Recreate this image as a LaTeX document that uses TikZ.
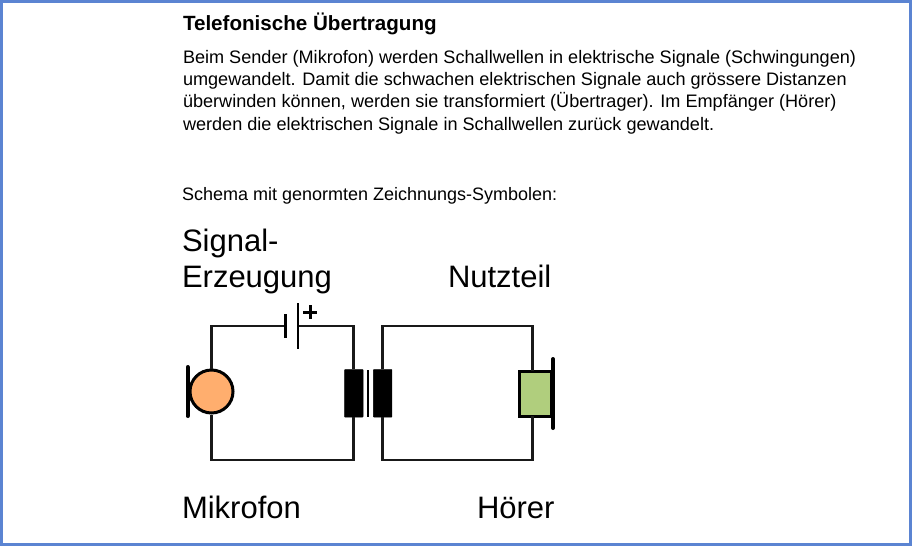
\documentclass[tikz,border=0pt]{standalone}
\usepackage{fontspec}
\setmainfont{Liberation Sans}
\usetikzlibrary{positioning}
\definecolor{framecol}{HTML}{5B84D2}
\definecolor{miccol}{HTML}{FFAE6E}
\definecolor{hoercol}{HTML}{B0CE7D}
\tikzset{
    wire/.style={line width=2.7pt,black!90},
    txt/.style={anchor=base west,inner sep=0pt,outer sep=0pt},
    big/.style={txt,font=\fontsize{31}{38}\selectfont},
    coil/.style={fill=black,draw=black,line width=.5pt,rounded corners=.5pt,minimum width=18.5pt,minimum height=47.5pt,inner sep=0pt}
}
\begin{document}
\begin{tikzpicture}[x=1pt,y=-1pt]
    \node[draw=framecol,line width=3pt,fill=white,minimum width=909pt,minimum height=543pt,inner sep=0pt] (frame) at (456,273) {};
    \node[txt,font=\bfseries\fontsize{20.6}{24}\selectfont] (title) at (183,30) {Telefonische Übertragung};
    \node[txt,align=left,font=\fontsize{18.1}{22.3}\selectfont,anchor=north west] (body) at (183,50)
        {Beim Sender (Mikrofon) werden Schallwellen in elektrische Signale (Schwingungen)\\
         umgewandelt. Damit die schwachen elektrischen Signale auch grössere Distanzen\\
         überwinden können, werden sie transformiert (Übertrager). Im Empfänger (Hörer)\\
         werden die elektrischen Signale in Schallwellen zurück gewandelt.};
    \node[txt,font=\fontsize{18}{20}\selectfont] (schema) at (182,200) {Schema mit genormten Zeichnungs-Symbolen:};
    \node[big] (signal) at (182,251.5) {Signal-};
    \node[big] (erzeug) at (182,287) {Erzeugung};
    \node[big] (nutz) at (448,287) {Nutzteil};
    \node[big] (mikro) at (182,518) {Mikrofon};
    \node[big] (hoer) at (477,518) {Hörer};
    % Sendekreis
    \node[coil] (coilL) at (353.8,393.3) {};
    \node[coil] (coilR) at (382.7,393.3) {};
    \node[circle,draw=black,line width=3pt,fill=miccol,minimum size=43pt,inner sep=0pt] (mic) at (211.5,391.5) {};
    \coordinate (topL) at (298,326);
    \coordinate (batneg) at (285.3,326);
    \coordinate (botL) at (283,460);
    \draw[wire] (mic.north) |- (batneg);
    \draw[wire] (topL) -| (coilL.north);
    \draw[wire] (mic.south) |- (botL) -| (coilL.south);
    \draw[line width=2.7pt] (285.3,314) -- (285.3,338);
    \draw[line width=2.7pt] (298,303) -- (298,349);
    \draw[line width=3pt] (303,312) -- (317,312) (310,305) -- (310,319);
    \draw[line width=4pt,line cap=round] (187.7,367) -- (187.7,416);
    % Kern
    \draw[line width=2.5pt] (368,370) -- (368,417);
    % Nutzkreis
    \node[draw=black,line width=3pt,fill=hoercol,minimum width=32.5pt,minimum height=45pt,inner sep=0pt] (hoerer) at (535.3,393.5) {};
    \coordinate (topR) at (458,326);
    \coordinate (botR) at (458,460);
    \draw[wire] (coilR.north) |- (topR) -| (532.5,371);
    \draw[wire] (coilR.south) |- (botR) -| (532.5,416);
    \draw[line width=4pt,line cap=round] (553,359) -- (553,428);
\end{tikzpicture}
\end{document}
